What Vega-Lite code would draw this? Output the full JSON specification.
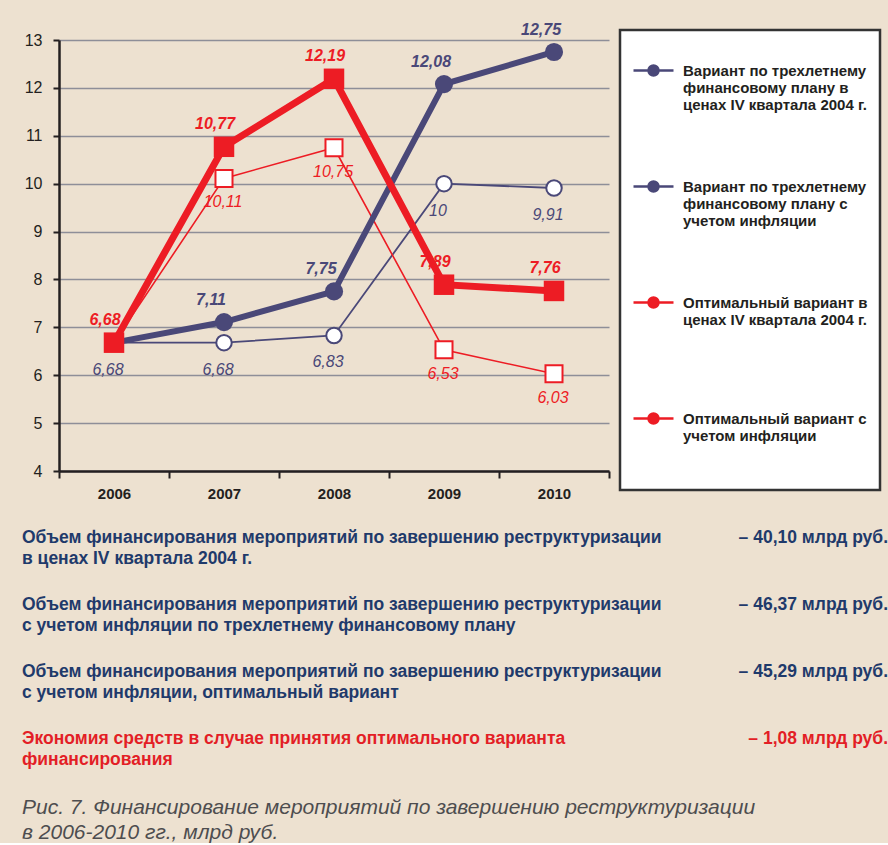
{
  "$schema": "https://vega.github.io/schema/vega-lite/v6.json",
  "background": "#ede1d0",
  "padding": {"left": 22, "top": 21, "right": 0, "bottom": 0},
  "spacing": 28,
  "config": {
    "view": {"stroke": null},
    "font": "Liberation Sans",
    "legend": {"strokeWidth": 2.5}
  },
  "vconcat": [
    {
      "width": 550,
      "height": 431,
      "data": {"values": [
        {"year": 2006, "value": 6.68, "series": "Вариант по трехлетнему финансовому плану в ценах IV квартала 2004 г."},
        {"year": 2007, "value": 6.68, "series": "Вариант по трехлетнему финансовому плану в ценах IV квартала 2004 г."},
        {"year": 2008, "value": 6.83, "series": "Вариант по трехлетнему финансовому плану в ценах IV квартала 2004 г."},
        {"year": 2009, "value": 10, "series": "Вариант по трехлетнему финансовому плану в ценах IV квартала 2004 г."},
        {"year": 2010, "value": 9.91, "series": "Вариант по трехлетнему финансовому плану в ценах IV квартала 2004 г."},
        {"year": 2006, "value": 6.68, "series": "Вариант по трехлетнему финансовому плану с учетом инфляции"},
        {"year": 2007, "value": 7.11, "series": "Вариант по трехлетнему финансовому плану с учетом инфляции"},
        {"year": 2008, "value": 7.75, "series": "Вариант по трехлетнему финансовому плану с учетом инфляции"},
        {"year": 2009, "value": 12.08, "series": "Вариант по трехлетнему финансовому плану с учетом инфляции"},
        {"year": 2010, "value": 12.75, "series": "Вариант по трехлетнему финансовому плану с учетом инфляции"},
        {"year": 2006, "value": 6.68, "series": "Оптимальный вариант в ценах IV квартала 2004 г."},
        {"year": 2007, "value": 10.11, "series": "Оптимальный вариант в ценах IV квартала 2004 г."},
        {"year": 2008, "value": 10.75, "series": "Оптимальный вариант в ценах IV квартала 2004 г."},
        {"year": 2009, "value": 6.53, "series": "Оптимальный вариант в ценах IV квартала 2004 г."},
        {"year": 2010, "value": 6.03, "series": "Оптимальный вариант в ценах IV квартала 2004 г."},
        {"year": 2006, "value": 6.68, "series": "Оптимальный вариант с учетом инфляции"},
        {"year": 2007, "value": 10.77, "series": "Оптимальный вариант с учетом инфляции"},
        {"year": 2008, "value": 12.19, "series": "Оптимальный вариант с учетом инфляции"},
        {"year": 2009, "value": 7.89, "series": "Оптимальный вариант с учетом инфляции"},
        {"year": 2010, "value": 7.76, "series": "Оптимальный вариант с учетом инфляции"}
      ]},
      "encoding": {
        "x": {
          "field": "year", "type": "quantitative",
          "scale": {"domain": [2005.5, 2010.5], "nice": false, "zero": false},
          "axis": {
            "title": null, "grid": false,
            "values": [2005.5, 2006.5, 2007.5, 2008.5, 2009.5, 2010.5],
            "labelExpr": "datum.value < 2010 ? '' + (datum.value + 0.5) : ''",
            "labelOffset": 55, "labelFlush": false, "labelOverlap": false, "labelBound": false,
            "labelFont": "Liberation Sans", "labelFontSize": 15, "labelFontWeight": "bold", "labelColor": "#231f20",
            "labelPadding": 8,
            "domainColor": "#231f20", "domainWidth": 2.5,
            "tickColor": "#231f20", "tickWidth": 2, "tickSize": 7
          }
        },
        "y": {
          "field": "value", "type": "quantitative",
          "scale": {"domain": [4, 13], "nice": false, "zero": false},
          "axis": {
            "title": null,
            "values": [4, 5, 6, 7, 8, 9, 10, 11, 12, 13],
            "grid": true, "gridColor": "#8e8e98", "gridWidth": 1.3,
            "labelFont": "Liberation Sans", "labelFontSize": 16, "labelColor": "#231f20", "labelPadding": 11,
            "domainColor": "#231f20", "domainWidth": 2.5,
            "tickColor": "#231f20", "tickWidth": 2, "tickSize": 6
          }
        },
        "color": {
          "field": "series", "type": "nominal",
          "scale": {
            "domain": [
              "Вариант по трехлетнему финансовому плану в ценах IV квартала 2004 г.",
              "Вариант по трехлетнему финансовому плану с учетом инфляции",
              "Оптимальный вариант в ценах IV квартала 2004 г.",
              "Оптимальный вариант с учетом инфляции"
            ],
            "range": ["#4a4878", "#4a4878", "#ed1c24", "#ed1c24"]
          },
          "legend": {
            "orient": "none", "legendX": 561, "legendY": -10,
            "direction": "vertical",
            "title": null,
            "fillColor": "white", "strokeColor": "#333333", "padding": 12,
            "gridAlign": "all", "rowPadding": 28,
            "symbolType": "M-1,0.35L-0.25,0.35M0.25,0.35L1,0.35M0.25,0.35A0.25,0.25,0,1,1,-0.25,0.35A0.25,0.25,0,1,1,0.25,0.35Z",
            "symbolSize": 1600, "symbolStrokeWidth": 2.5, "symbolOpacity": 1,
            "labelFont": "Liberation Sans", "labelFontSize": 15, "labelFontWeight": "bold", "labelColor": "#231f20",
            "labelBaseline": "top", "labelOffset": 8, "labelLimit": 320,
            "labelExpr": "indexof(datum.value, 'Вариант') == 0 ? (indexof(datum.value, 'инфляции') >= 0 ? ['Вариант по трехлетнему', 'финансовому плану с', 'учетом инфляции'] : ['Вариант по трехлетнему', 'финансовому плану в', 'ценах IV квартала 2004 г.']) : (indexof(datum.value, 'инфляции') >= 0 ? ['Оптимальный вариант с', 'учетом инфляции', '', ''] : ['Оптимальный вариант в', 'ценах IV квартала 2004 г.'])"
          }
        }
      },
      "layer": [
        {
          "transform": [{"filter": {"field": "series", "equal": "Вариант по трехлетнему финансовому плану в ценах IV квартала 2004 г."}}],
          "mark": {"type": "line", "strokeWidth": 1.8},
          "encoding": {}
        },
        {
          "transform": [{"filter": {"field": "series", "equal": "Вариант по трехлетнему финансовому плану в ценах IV квартала 2004 г."}}],
          "mark": {"type": "point", "shape": "circle", "filled": false, "fill": "white", "size": 240, "strokeWidth": 2, "opacity": 1},
          "encoding": {}
        },
        {
          "transform": [{"filter": {"field": "series", "equal": "Оптимальный вариант в ценах IV квартала 2004 г."}}],
          "mark": {"type": "line", "strokeWidth": 1.6},
          "encoding": {}
        },
        {
          "transform": [{"filter": {"field": "series", "equal": "Оптимальный вариант в ценах IV квартала 2004 г."}}],
          "mark": {"type": "point", "shape": "square", "filled": false, "fill": "white", "size": 290, "strokeWidth": 2, "opacity": 1},
          "encoding": {}
        },
        {
          "transform": [{"filter": {"field": "series", "equal": "Вариант по трехлетнему финансовому плану с учетом инфляции"}}],
          "mark": {"type": "line", "strokeWidth": 6},
          "encoding": {}
        },
        {
          "transform": [{"filter": {"field": "series", "equal": "Вариант по трехлетнему финансовому плану с учетом инфляции"}}],
          "mark": {"type": "point", "shape": "circle", "filled": true, "size": 330, "opacity": 1},
          "encoding": {}
        },
        {
          "transform": [{"filter": {"field": "series", "equal": "Оптимальный вариант с учетом инфляции"}}],
          "mark": {"type": "line", "strokeWidth": 7},
          "encoding": {}
        },
        {
          "transform": [{"filter": {"field": "series", "equal": "Оптимальный вариант с учетом инфляции"}}],
          "mark": {"type": "point", "shape": "square", "filled": true, "size": 420, "opacity": 1},
          "encoding": {}
        },
        {
          "transform": [
            {"filter": {"field": "series", "equal": "Вариант по трехлетнему финансовому плану в ценах IV квартала 2004 г."}},
            {"calculate": "replace(format(datum.value, '.2~f'), '.', ',')", "as": "label"}
          ],
          "mark": {"type": "text", "dy": 27, "dx": -6, "font": "Liberation Sans", "fontSize": 16, "fontStyle": "italic"},
          "encoding": {"text": {"field": "label", "type": "nominal"}}
        },
        {
          "transform": [
            {"filter": {"field": "series", "equal": "Вариант по трехлетнему финансовому плану с учетом инфляции"}},
            {"filter": "datum.year > 2006"},
            {"calculate": "replace(format(datum.value, '.2~f'), '.', ',')", "as": "label"}
          ],
          "mark": {"type": "text", "dy": -22, "dx": -13, "font": "Liberation Sans", "fontSize": 16, "fontStyle": "italic", "fontWeight": "bold"},
          "encoding": {"text": {"field": "label", "type": "nominal"}}
        },
        {
          "transform": [
            {"filter": {"field": "series", "equal": "Оптимальный вариант в ценах IV квартала 2004 г."}},
            {"filter": "datum.year > 2006"},
            {"calculate": "replace(format(datum.value, '.2~f'), '.', ',')", "as": "label"}
          ],
          "mark": {"type": "text", "dy": 24, "dx": -1, "font": "Liberation Sans", "fontSize": 16, "fontStyle": "italic"},
          "encoding": {"text": {"field": "label", "type": "nominal"}}
        },
        {
          "transform": [
            {"filter": {"field": "series", "equal": "Оптимальный вариант с учетом инфляции"}},
            {"calculate": "replace(format(datum.value, '.2~f'), '.', ',')", "as": "label"}
          ],
          "mark": {"type": "text", "dy": -23, "dx": -9, "font": "Liberation Sans", "fontSize": 16, "fontStyle": "italic", "fontWeight": "bold"},
          "encoding": {"text": {"field": "label", "type": "nominal"}}
        }
      ]
    },
    {
      "width": 829,
      "height": 268,
      "data": {"values": [
        {"block": 1, "column": "текст", "kind": "объем", "text": "Объем финансирования мероприятий по завершению реструктуризации\nв ценах IV квартала 2004 г."},
        {"block": 1, "column": "сумма", "kind": "объем", "text": "– 40,10 млрд руб."},
        {"block": 2, "column": "текст", "kind": "объем", "text": "Объем финансирования мероприятий по завершению реструктуризации\nс учетом инфляции по трехлетнему финансовому плану"},
        {"block": 2, "column": "сумма", "kind": "объем", "text": "– 46,37 млрд руб."},
        {"block": 3, "column": "текст", "kind": "объем", "text": "Объем финансирования мероприятий по завершению реструктуризации\nс учетом инфляции, оптимальный вариант"},
        {"block": 3, "column": "сумма", "kind": "объем", "text": "– 45,29 млрд руб."},
        {"block": 4, "column": "текст", "kind": "экономия", "text": "Экономия средств в случае принятия оптимального варианта\nфинансирования"},
        {"block": 4, "column": "сумма", "kind": "экономия", "text": "– 1,08 млрд руб."},
        {"block": 5, "column": "текст", "kind": "подпись", "text": "Рис. 7. Финансирование мероприятий по завершению реструктуризации\nв 2006-2010 гг., млрд руб."}
      ]},
      "encoding": {
        "x": {"field": "column", "type": "nominal", "scale": {"type": "point", "domain": ["текст", "сумма"], "padding": 0}, "axis": null},
        "y": {"field": "block", "type": "ordinal", "scale": {"type": "point", "padding": 0}, "axis": null},
        "text": {"field": "text", "type": "nominal"}
      },
      "layer": [
        {
          "transform": [{"filter": "datum.kind == 'объем' && datum.column == 'текст'"}],
          "mark": {"type": "text", "align": "left", "baseline": "top", "dx": -37, "lineBreak": "\n", "lineHeight": 21, "font": "Liberation Sans", "fontSize": 17.5, "fontWeight": "bold", "color": "#1f3a6b"}
        },
        {
          "transform": [{"filter": "datum.kind == 'экономия' && datum.column == 'текст'"}],
          "mark": {"type": "text", "align": "left", "baseline": "top", "dx": -37, "lineBreak": "\n", "lineHeight": 21, "font": "Liberation Sans", "fontSize": 17.5, "fontWeight": "bold", "color": "#e31e26"}
        },
        {
          "transform": [{"filter": "datum.kind == 'объем' && datum.column == 'сумма'"}],
          "mark": {"type": "text", "align": "right", "baseline": "top", "font": "Liberation Sans", "fontSize": 17.5, "fontWeight": "bold", "color": "#1f3a6b"}
        },
        {
          "transform": [{"filter": "datum.kind == 'экономия' && datum.column == 'сумма'"}],
          "mark": {"type": "text", "align": "right", "baseline": "top", "font": "Liberation Sans", "fontSize": 17.5, "fontWeight": "bold", "color": "#e31e26"}
        },
        {
          "transform": [{"filter": "datum.kind == 'подпись'"}],
          "mark": {"type": "text", "align": "left", "baseline": "top", "dx": -37, "lineBreak": "\n", "lineHeight": 25, "font": "Liberation Sans", "fontSize": 21, "fontStyle": "italic", "color": "#4d4d4f"}
        }
      ]
    }
  ]
}
